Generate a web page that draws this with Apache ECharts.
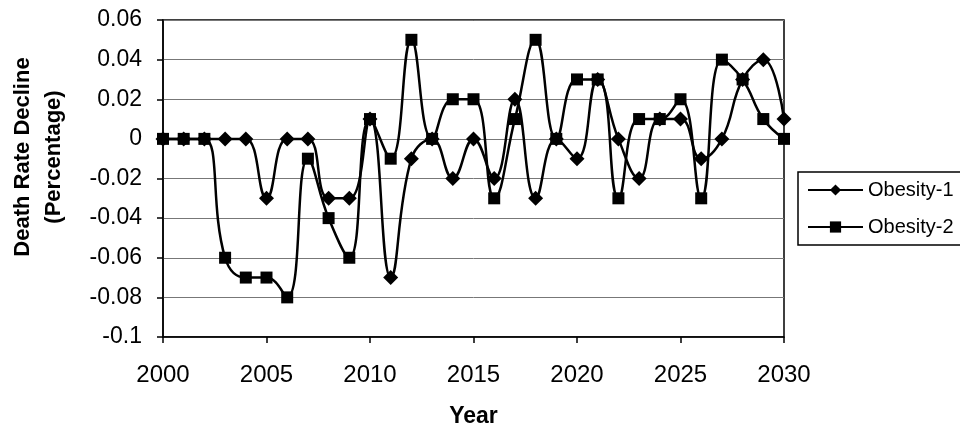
<!DOCTYPE html>
<html>
<head>
<meta charset="utf-8">
<script src="https://cdn.jsdelivr.net/npm/echarts@6/dist/echarts.min.js"></script>
<style>
  html, body { margin: 0; padding: 0; background: #fff; }
  #chart { width: 960px; height: 429px; }
</style>
</head>
<body>
<div id="chart"></div>
<script>
// years on the x axis
var years = [2000, 2001, 2002, 2003, 2004, 2005, 2006, 2007, 2008, 2009, 2010,
  2011, 2012, 2013, 2014, 2015, 2016, 2017, 2018, 2019, 2020,
  2021, 2022, 2023, 2024, 2025, 2026, 2027, 2028, 2029, 2030];
// Obesity-1 (diamonds)
var obesity1 = [0, 0, 0, 0, 0, -0.03, 0, 0, -0.03, -0.03, 0.01,
  -0.07, -0.01, 0, -0.02, 0, -0.02, 0.02, -0.03, 0, -0.01,
  0.03, 0, -0.02, 0.01, 0.01, -0.01, 0, 0.03, 0.04, 0.01];
// Obesity-2 (squares)
var obesity2 = [0, 0, 0, -0.06, -0.07, -0.07, -0.08, -0.01, -0.04, -0.06, 0.01,
  -0.01, 0.05, 0, 0.02, 0.02, -0.03, 0.01, 0.05, 0, 0.03,
  0.03, -0.03, 0.01, 0.01, 0.02, -0.03, 0.04, 0.03, 0.01, 0];

var font = 'Liberation Sans, Arial, sans-serif';

function pairs(vals) {
  return years.map(function (y, i) { return [y, vals[i]]; });
}

var myChart = echarts.init(document.getElementById('chart'));
var option = {
  animation: false,
  grid: {
    left: 163,
    right: 176,
    top: 20,
    bottom: 92,
    containLabel: false,
    outerBoundsMode: 'none',
    show: true,
    borderColor: '#000',
    borderWidth: 1.5
  },
  graphic: [{
    type: 'text',
    x: 38,
    y: 157,
    rotation: Math.PI / 2,
    style: {
      text: 'Death Rate Decline\n(Percentage)',
      font: 'bold 22px ' + font,
      fill: '#000',
      align: 'center',
      verticalAlign: 'middle',
      lineHeight: 31
    }
  }],
  legend: {
    orient: 'vertical',
    left: 798,
    top: 172,
    padding: [8, 10, 8, 9],
    itemGap: 17,
    itemWidth: 55,
    itemHeight: 14,
    borderColor: '#000',
    borderWidth: 1.5,
    textStyle: { fontFamily: font, fontSize: 20, color: '#000' },
    data: ['Obesity-1', 'Obesity-2']
  },
  xAxis: {
    type: 'value',
    min: 2000,
    max: 2030,
    interval: 5,
    name: 'Year',
    nameLocation: 'middle',
    nameGap: 68,
    nameTextStyle: { fontFamily: font, fontSize: 23, fontWeight: 'bold', color: '#000' },
    axisLine: { show: true, onZero: false, lineStyle: { color: '#000', width: 1.5 } },
    axisTick: { show: true, length: 6, lineStyle: { color: '#000', width: 1.5 } },
    axisLabel: {
      margin: 26,
      fontFamily: font,
      fontSize: 24,
      color: '#000',
      formatter: function (v) { return String(v); }
    },
    splitLine: { show: false }
  },
  yAxis: {
    type: 'value',
    min: -0.1,
    max: 0.06,
    interval: 0.02,
    axisLine: { show: true, lineStyle: { color: '#000', width: 1.5 } },
    axisTick: { show: true, length: 6, lineStyle: { color: '#000', width: 1.5 } },
    axisLabel: {
      margin: 21,
      fontFamily: font,
      fontSize: 23,
      color: '#000',
      formatter: function (v) { return String(Math.round(v * 100) / 100); }
    },
    splitLine: { show: true, lineStyle: { color: '#777', width: 1 } }
  },
  series: [{
    name: 'Obesity-1',
    type: 'line',
    smooth: 0.45,
    symbol: 'diamond',
    symbolSize: 15,
    data: pairs(obesity1),
    lineStyle: { color: '#000', width: 2.5 },
    itemStyle: { color: '#000' }
  }, {
    name: 'Obesity-2',
    type: 'line',
    smooth: 0.45,
    symbol: 'rect',
    symbolSize: 12,
    data: pairs(obesity2),
    lineStyle: { color: '#000', width: 2.5 },
    itemStyle: { color: '#000' }
  }]
};
myChart.setOption(option);
</script>
</body>
</html>
